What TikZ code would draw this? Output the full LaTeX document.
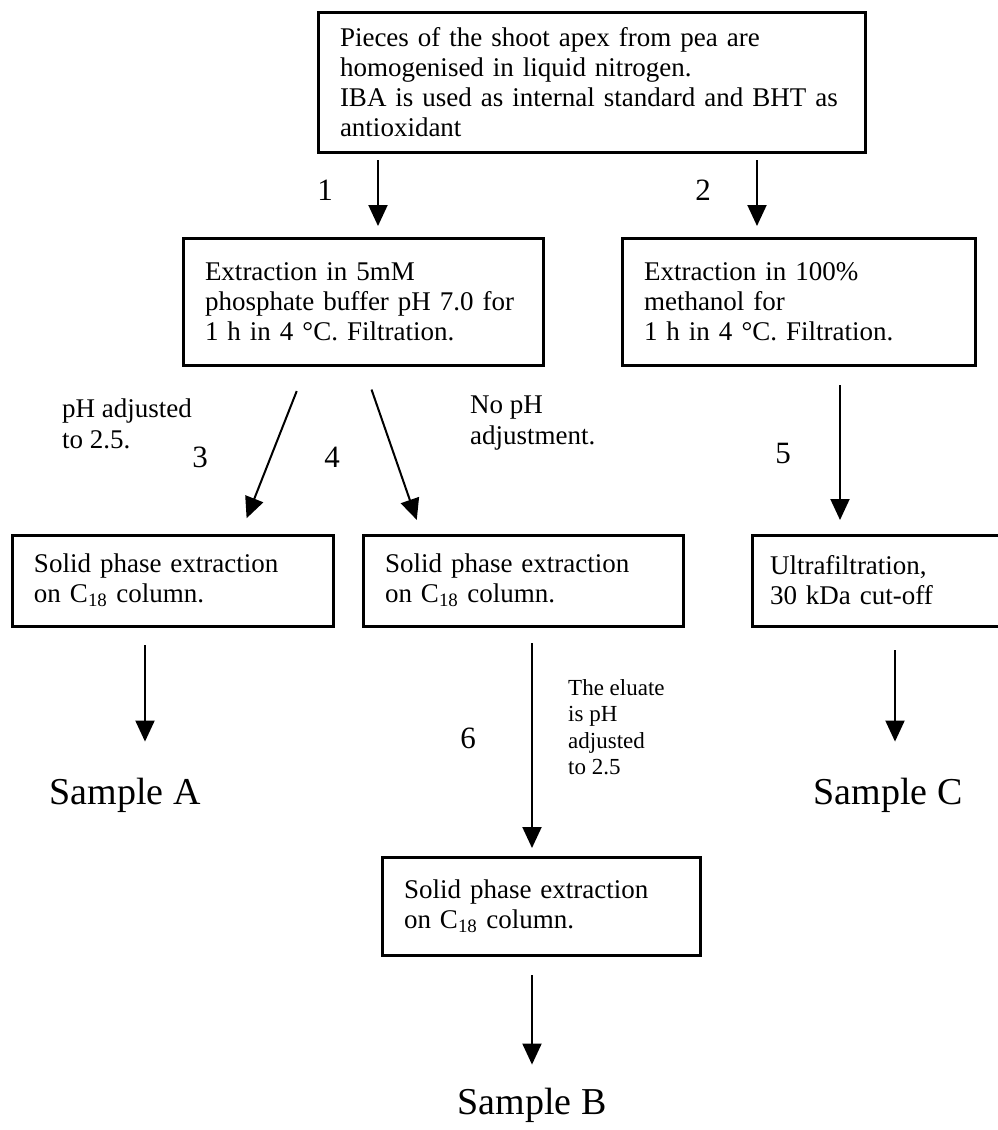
\documentclass[tikz,border=0pt]{standalone}
\usepackage{fontspec}
\setmainfont{Liberation Serif}
\usetikzlibrary{arrows.meta}

\begin{document}
\begin{tikzpicture}[
    x=1pt, y=-1pt,
    stepbox/.style={rectangle, draw=black, line width=3pt, anchor=north west, outer sep=0pt, align=left, inner xsep=22pt, font=\fontsize{27}{30}\selectfont},
    flow/.style={-{Triangle[length=21pt, width=19pt]}, line width=2pt},
    num/.style={inner sep=0pt, font=\fontsize{31}{31}\selectfont},
    note/.style={align=left, anchor=north west, inner sep=0pt, font=\fontsize{27}{31}\selectfont},
    sample/.style={inner sep=0pt, font=\fontsize{38}{38}\selectfont},
    ]
      \useasboundingbox (0,0) rectangle (997,1130);

      %Nodes
      \node[stepbox, text width=503pt, minimum height=140pt] (top) at (318,12) {Pieces of the shoot apex from pea are\\ homogenised in liquid nitrogen.\\ IBA is used as internal standard and BHT as\\ antioxidant};
      \node[stepbox, text width=316pt, minimum height=127pt] (ext)  at (183,238) {Extraction in 5mM\\ phosphate buffer pH 7.0 for\\ 1 h in 4 °C. Filtration.};
      \node[stepbox, text width=309pt, minimum height=127pt] (meth) at (622,238) {Extraction in 100\%\\ methanol for\\ 1 h in 4 °C. Filtration.};

      \node[stepbox, text width=277pt, minimum height=91pt] (exA) at (12,535)  {Solid phase extraction\\ on C\textsubscript{18} column.};
      \node[stepbox, text width=276pt, minimum height=91pt] (exB) at (363,535) {Solid phase extraction\\ on C\textsubscript{18} column.};
      \node[stepbox, text width=220pt, minimum height=91pt, inner xsep=18pt] (exC) at (752,535) {Ultrafiltration,\\ 30 kDa cut-off};
      \node[stepbox, text width=274pt, minimum height=98pt] (exD) at (382,857) {Solid phase extraction\\ on C\textsubscript{18} column.};

      \node[num] (n1) at (325,190) {1};
      \node[num] (n2) at (703,190) {2};
      \node[num] (n3) at (200,457) {3};
      \node[num] (n4) at (332,457) {4};
      \node[num] (n5) at (783,453) {5};
      \node[num] (n6) at (468,738) {6};

      \node[note] (adj)   at (62,399)  {pH adjusted\\ to 2.5.};
      \node[note] (noadj) at (470,396) {No pH\\ adjustment.};
      \node[note, font=\fontsize{23}{26.5}\selectfont] (elu) at (568,679) {The eluate\\ is pH\\ adjusted\\ to 2.5};

      \node[sample] (sA) at (125,795)  {Sample A};
      \node[sample] (sB) at (532,1105) {Sample B};
      \node[sample] (sC) at (888,795)  {Sample C};

      \coordinate (c1) at (378,0);
      \coordinate (c2) at (757,0);
      \coordinate (c5) at (840,0);
      \coordinate (cA) at (145,0);
      \coordinate (cB) at (532,0);
      \coordinate (cC) at (895,0);

      %Lines
      \draw[flow, shorten <=8pt, shorten >=12pt] (top.south -| c1) to (ext.north -| c1);
      \draw[flow, shorten <=8pt, shorten >=12pt] (top.south -| c2) to (meth.north -| c2);
      \draw[flow, shorten <=28pt, shorten >=18pt] ([xshift=-56pt]ext.south) to ([xshift=67.5pt]exA.north);
      \draw[flow, shorten <=26pt, shorten >=16pt] (ext.south) to ([xshift=-101pt]exB.north);
      \draw[flow, shorten <=20pt, shorten >=15pt] (meth.south -| c5) to (exC.north -| c5);

      \draw[flow, shorten <=19pt, shorten >=36pt] (exA.south -| cA) to (sA.north -| cA);
      \draw[flow, shorten <=17pt, shorten >=9pt]  (exB.south -| cB) to (exD.north -| cB);
      \draw[flow, shorten <=24pt, shorten >=36pt] (exC.south -| cC) to (sC.north -| cC);
      \draw[flow, shorten <=20pt, shorten >=23pt] (exD.south -| cB) to (sB.north -| cB);
    \end{tikzpicture}
\end{document}
